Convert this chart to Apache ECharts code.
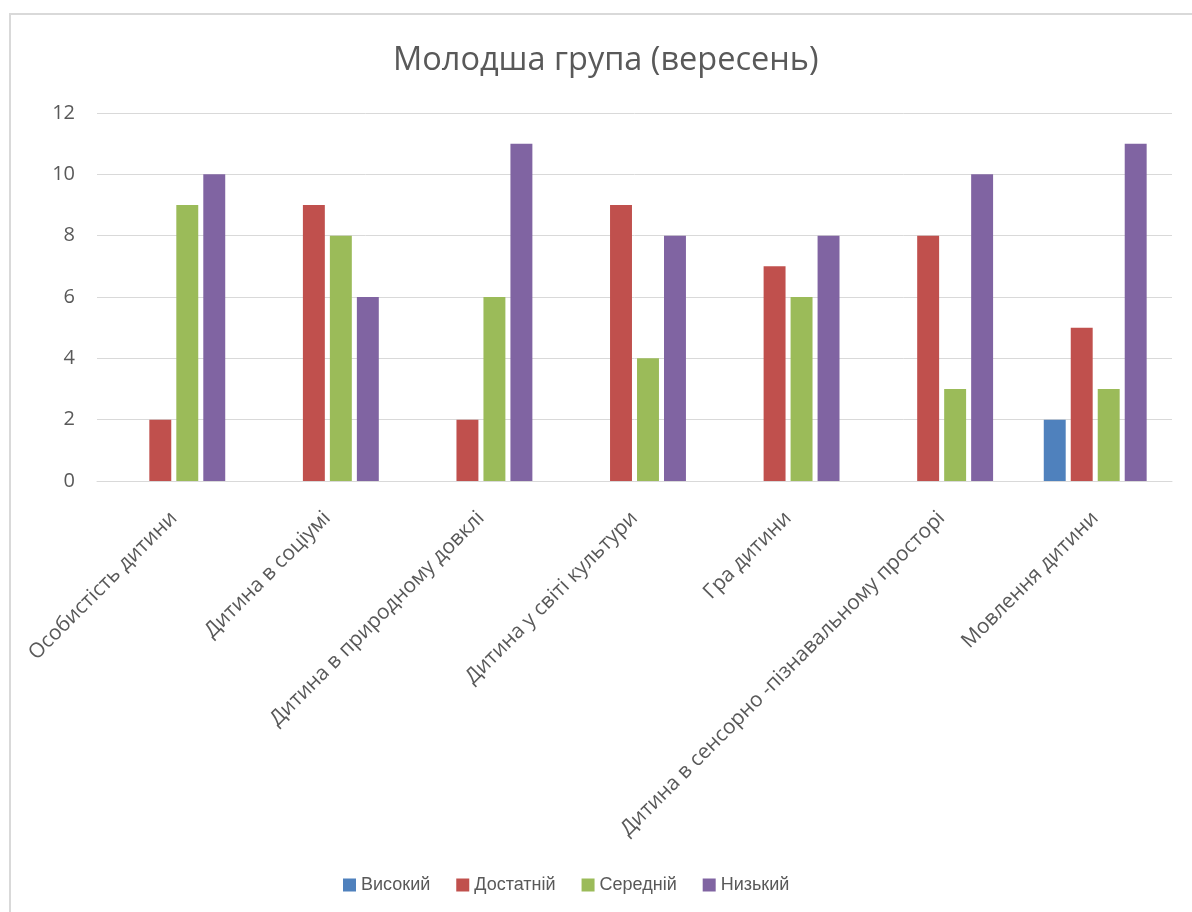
<!DOCTYPE html>
<html><head><meta charset="utf-8">
<style>html,body{margin:0;padding:0;background:#fff;overflow:hidden}
#frame{position:absolute;left:9px;top:13px;width:1300px;height:1000px;border:2px solid #d9d9d9;box-sizing:border-box}
#c{position:absolute;left:0;top:0;width:1192px;height:912px}</style>
<script src="https://cdn.jsdelivr.net/npm/echarts@6/dist/echarts.min.js"></script>
</head><body><div id="frame"></div><div id="c"></div>
<script>
const categories = ['Особистість дитини','Дитина в соціумі','Дитина в природному довклі','Дитина у світі культури','Гра дитини','Дитина в сенсорно -пізнавальному просторі','Мовлення дитини'];
const seriesNames = ['Високий','Достатній','Середній','Низький'];
const high = [0,0,0,0,0,0,2];
const sufficient = [2,9,2,9,7,8,5];
const medium = [9,8,6,4,6,3,3];
const low = [10,6,11,8,8,10,11];
const yTicks = [0,2,4,6,8,10,12];
const colors = ['#4F81BD','#C0504D','#9BBB59','#8064A2'];
const values = [high,sufficient,medium,low];
const font = 'Open Sans';
const chart = echarts.init(document.getElementById('c'));
chart.setOption({
  animation:false,
  title:{text:'Молодша група (вересень)',left:388,top:39,textStyle:{fontFamily:font,fontSize:32.5,fontWeight:'normal',color:'#595959'}},
  legend:{data:seriesNames,top:871,left:338,itemWidth:13,itemHeight:13,itemGap:26,icon:'rect',textStyle:{fontFamily:'Liberation Sans',fontSize:18,color:'#595959'}},
  grid:{left:97,right:20,top:113,bottom:431,containLabel:false},
  xAxis:{type:'category',data:categories,axisLine:{lineStyle:{color:'#d9d9d9',width:1}},axisTick:{show:false},
    axisLabel:{interval:0,rotate:45,fontFamily:font,fontSize:20.7,color:'#595959',margin:34}},
  yAxis:{type:'value',min:0,max:12,interval:2,axisLine:{show:false},axisTick:{show:false},
    splitLine:{lineStyle:{color:'#d9d9d9'}},axisLabel:{fontFamily:font,fontSize:20,color:'#595959',margin:22,formatter:v=>yTicks.includes(v)?String(v):''}},
  series:values.map((d,i)=>({name:seriesNames[i],type:'bar',data:d,barGap:'23%',barCategoryGap:'33%',itemStyle:{color:colors[i]}}))
});
</script></body></html>
